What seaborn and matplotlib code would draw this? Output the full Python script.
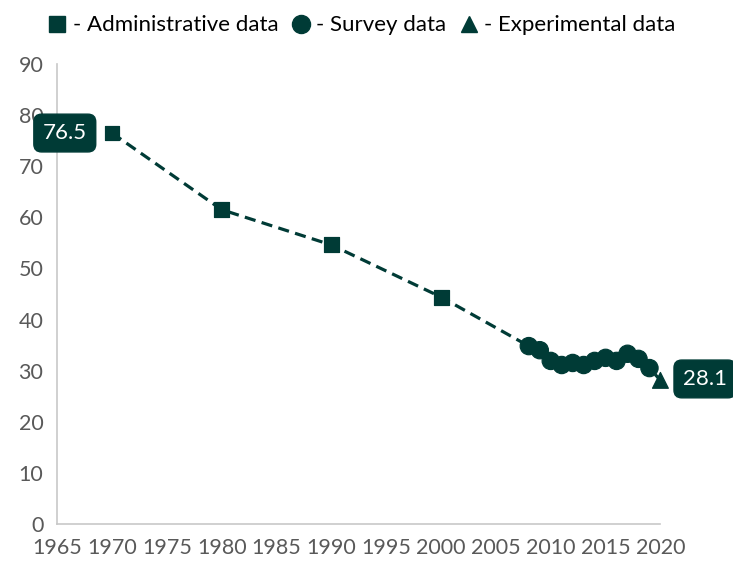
import matplotlib
matplotlib.use("Agg")
import matplotlib.pyplot as plt
import seaborn as sns
import pandas as pd
from matplotlib.lines import Line2D

admin_years = [1970, 1980, 1990, 2000]
admin_vals = [76.5, 61.5, 54.6, 44.4]
survey_years = [2008, 2009, 2010, 2011, 2012, 2013, 2014, 2015, 2016, 2017, 2018, 2019]
survey_vals = [34.8, 34.0, 31.9, 31.1, 31.5, 31.1, 31.9, 32.5, 31.9, 33.3, 32.3, 30.5]
exp_years = [2020]
exp_vals = [28.1]
x_ticks = list(range(1965, 2021, 5))
y_ticks = list(range(0, 91, 10))

sns.set_theme(style="white")
plt.rcParams['font.family'] = ['Lato', 'DejaVu Sans']

C = "#003b36"
GRAY = "#595959"

df = pd.DataFrame({
    "year": admin_years + survey_years + exp_years,
    "value": admin_vals + survey_vals + exp_vals,
    "kind": ["Administrative"] * len(admin_years) + ["Survey"] * len(survey_years) + ["Experimental"] * len(exp_years),
})

fig = plt.figure(figsize=(7.33, 5.67), dpi=100)
ax = fig.add_axes([0.078, 0.076, 0.823, 0.811])

sns.lineplot(data=df, x="year", y="value", ax=ax, color=C, linestyle=(0, (3.5, 2)), linewidth=2.3, zorder=2)
sns.scatterplot(data=df, x="year", y="value", style="kind",
                markers={"Administrative": "s", "Survey": "o", "Experimental": "^"},
                color=C, edgecolor=C, legend=False, ax=ax, zorder=3, clip_on=False,
                size="kind", sizes={"Administrative": 115, "Survey": 155, "Experimental": 130})

ax.set_xlim(1965, 2020)
ax.set_ylim(0, 90)
ax.set_xticks(x_ticks)
ax.set_yticks(y_ticks)
ax.set_xlabel("")
ax.set_ylabel("")
for s in ["top", "right"]:
    ax.spines[s].set_visible(False)
for s in ["left", "bottom"]:
    ax.spines[s].set_color("#c8c8c8")
    ax.spines[s].set_linewidth(1.2)
ax.tick_params(axis="x", direction="inout", length=10, width=1.2, color="#c8c8c8", labelsize=15.5, labelcolor=GRAY, pad=5)
ax.tick_params(axis="y", direction="out", length=6, width=1.2, color="#c8c8c8", labelsize=15.5, labelcolor=GRAY, pad=4)
ax.grid(False)

box = dict(boxstyle="round,pad=0.4,rounding_size=0.35", fc=C, ec=C)
ax.annotate(f"{admin_vals[0]}", xy=(admin_years[0], admin_vals[0]), xytext=(-34, 0), textcoords="offset points",
            ha="center", va="center", color="white", fontsize=16, bbox=box, annotation_clip=False)
ax.annotate(f"{exp_vals[0]}", xy=(exp_years[0], exp_vals[0]), xytext=(32, 1), textcoords="offset points",
            ha="center", va="center", color="white", fontsize=16, bbox=box, annotation_clip=False)

handles = [
    Line2D([], [], marker="s", linestyle="", color=C, markersize=12),
    Line2D([], [], marker="o", linestyle="", color=C, markersize=13),
    Line2D([], [], marker="^", linestyle="", color=C, markersize=12),
]
labels = ["- Administrative data", "- Survey data", "- Experimental data"]
fig.legend(handles, labels, loc="upper center", bbox_to_anchor=(0.494, 1.008), ncol=3, frameon=False,
           fontsize=16, handlelength=0.8, handletextpad=0.3, columnspacing=0.6, labelcolor="black")

fig.savefig("out.png", dpi=100)
